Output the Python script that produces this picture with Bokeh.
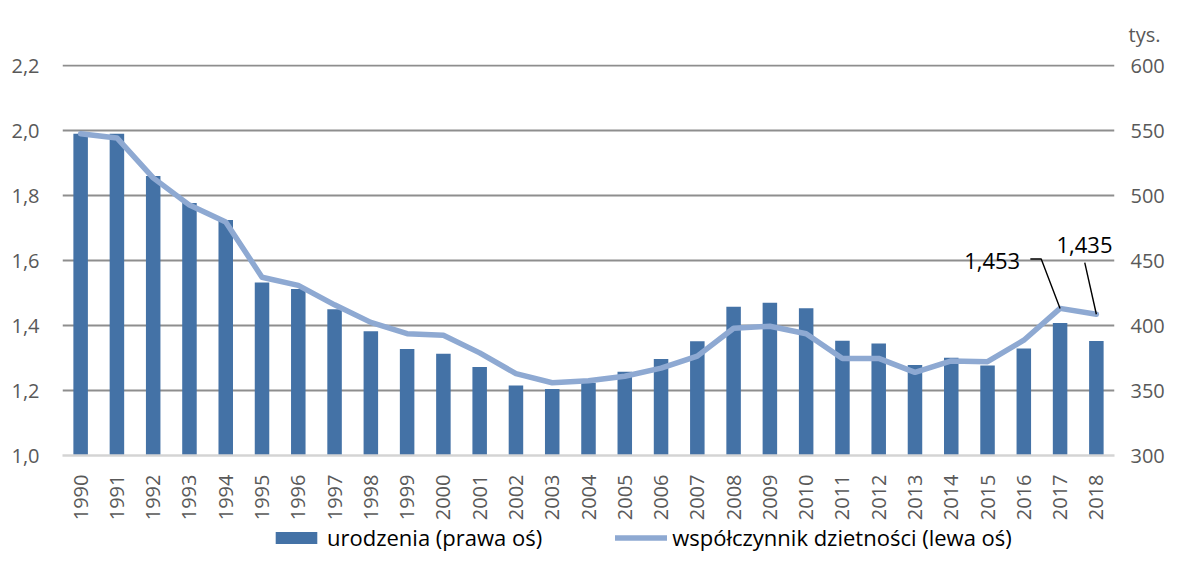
import numpy as np
from bokeh.plotting import figure
from bokeh.layouts import column
from bokeh.models import (Range1d, LinearAxis, FixedTicker, CustomJSTickFormatter,
                          Legend, LegendItem, Label)
from bokeh.embed import file_html
from bokeh.resources import INLINE

# ---------------- data ----------------
years = [str(y) for y in range(1990, 2019)]
births = [547.7, 547.7, 515.2, 494.3, 481.3, 433.1, 428.2, 412.6, 395.6, 382.0,
          378.3, 368.2, 353.8, 351.1, 356.1, 364.4, 374.2, 387.9, 414.5, 417.6,
          413.3, 388.4, 386.3, 369.6, 375.2, 369.3, 382.3, 402.0, 388.2]
fertility = [1.991, 1.978, 1.855, 1.771, 1.719, 1.549, 1.524, 1.464, 1.410, 1.375,
             1.370, 1.316, 1.252, 1.224, 1.230, 1.244, 1.269, 1.306, 1.392, 1.398,
             1.375, 1.299, 1.299, 1.256, 1.291, 1.289, 1.355, 1.453, 1.435]
left_ticks = [1.0, 1.2, 1.4, 1.6, 1.8, 2.0, 2.2]
right_ticks = [300, 350, 400, 450, 500, 550, 600]
bar_label = "urodzenia (prawa oś)"
line_label = "współczynnik dzietności (lewa oś)"
unit_label = "tys."

BAR_COLOR = "#4472A6"
LINE_COLOR = "#8EA9D2"
TEXT_GRAY = "#595959"
FONT = "Open Sans"

n = len(years)
xs = np.arange(n)

pad = 0.004
l0, l1 = left_ticks[0], left_ticks[-1]
r0, r1 = right_ticks[0], right_ticks[-1]
r_pad = pad * (r1 - r0) / (l1 - l0)

p = figure(width=1168, height=523,
           min_border_left=62, min_border_right=54, min_border_top=64, min_border_bottom=60,
           x_range=Range1d(-0.5, n - 0.5), y_range=Range1d(l0, l1 + pad),
           output_backend="svg", toolbar_location=None, tools="")
p.outline_line_color = None
p.extra_y_ranges = {"births": Range1d(r0, r1 + r_pad)}

p.xgrid.visible = False
p.ygrid.ticker = FixedTicker(ticks=left_ticks[1:])
p.ygrid.grid_line_color = "#8E8E8E"
p.ygrid.grid_line_width = 2

bars = p.vbar(x=xs, top=births, bottom=r0, width=0.4,
              fill_color=BAR_COLOR, line_color=None, y_range_name="births")
line = p.line(x=xs, y=fertility, line_color=LINE_COLOR, line_width=5.5,
              line_join="round", line_cap="round")

xax = p.xaxis[0]
xax.ticker = FixedTicker(ticks=list(xs))
xax.major_label_overrides = {int(i): y for i, y in zip(xs, years)}
xax.major_label_orientation = np.pi / 2
xax.major_label_text_font = FONT
xax.major_label_text_font_size = "20px"
xax.major_label_text_color = TEXT_GRAY
xax.major_label_standoff = 13
xax.major_tick_line_color = None
xax.minor_tick_line_color = None
xax.axis_line_color = "#D4D4D4"
xax.axis_line_width = 2.5

yax = p.yaxis[0]
yax.ticker = FixedTicker(ticks=left_ticks)
yax.formatter = CustomJSTickFormatter(code="return tick.toFixed(1).replace('.', ',');")
yax.major_label_text_font = FONT
yax.major_label_text_font_size = "20px"
yax.major_label_text_color = TEXT_GRAY
yax.major_label_standoff = 17
yax.major_tick_line_color = None
yax.minor_tick_line_color = None
yax.axis_line_color = None

rax = LinearAxis(y_range_name="births", ticker=FixedTicker(ticks=right_ticks))
rax.major_label_text_font = FONT
rax.major_label_text_font_size = "20px"
rax.major_label_text_color = TEXT_GRAY
rax.major_label_standoff = 10
rax.major_tick_line_color = None
rax.minor_tick_line_color = None
rax.axis_line_color = None
p.add_layout(rax, "right")

p.title.text = unit_label
p.title.align = "right"
p.title.offset = -46
p.title.standoff = 34
p.title.text_font = FONT
p.title.text_font_size = "20px"
p.title.text_font_style = "normal"
p.title.text_color = TEXT_GRAY

i17, i18 = years.index("2017"), years.index("2018")
t17, t18 = fertility[i17], fertility[i18]
p.line(x=[i17 - 0.82, i17 - 0.52, i17], y=[t17 + 0.152, t17 + 0.152, t17],
       line_color="black", line_width=1.4)
p.line(x=[i18 - 0.32, i18], y=[t18 + 0.159, t18], line_color="black", line_width=1.4)
p.add_layout(Label(x=i17 - 1.10, y=t17 + 0.145, text=f"{t17:.3f}".replace(".", ","),
                   text_font=FONT, text_font_size="22px", text_color="black",
                   text_baseline="middle", text_align="right"))
p.add_layout(Label(x=n - 0.5, x_offset=-2, y=t18 + 0.2125, text=f"{t18:.3f}".replace(".", ","),
                   text_font=FONT, text_font_size="22px", text_color="black",
                   text_baseline="middle", text_align="right"))

# legend strip below the chart (frame aligned with the chart by the column layout);
# its key renderers are hidden and only lend their styles to the legend
lg = figure(width=1168, height=28, min_border=0, x_range=Range1d(-0.5, n - 0.5),
            y_range=Range1d(-1, 0), output_backend="svg", toolbar_location=None, tools="")
lg.axis.visible = False
lg.grid.visible = False
lg.outline_line_color = None
key_bar = lg.vbar(x=xs, top=births, bottom=r0, width=0.4, fill_color=BAR_COLOR,
                  line_color=None, visible=False)
key_line = lg.line(x=xs, y=fertility, line_color=LINE_COLOR, line_width=5.5,
                   line_cap="round", visible=False)
legend = Legend(items=[LegendItem(label=bar_label, renderers=[key_bar]),
                       LegendItem(label=line_label, renderers=[key_line])],
                location=(208, -1), orientation="horizontal", padding=0, margin=0,
                spacing=73, glyph_width=52, glyph_height=15, label_standoff=5,
                label_text_font=FONT, label_text_font_size="22px", label_text_color="black",
                background_fill_alpha=0, border_line_color=None)
lg.add_layout(legend, "center")

open("out.html", "w").write(file_html(column(p, lg, spacing=0), INLINE))
